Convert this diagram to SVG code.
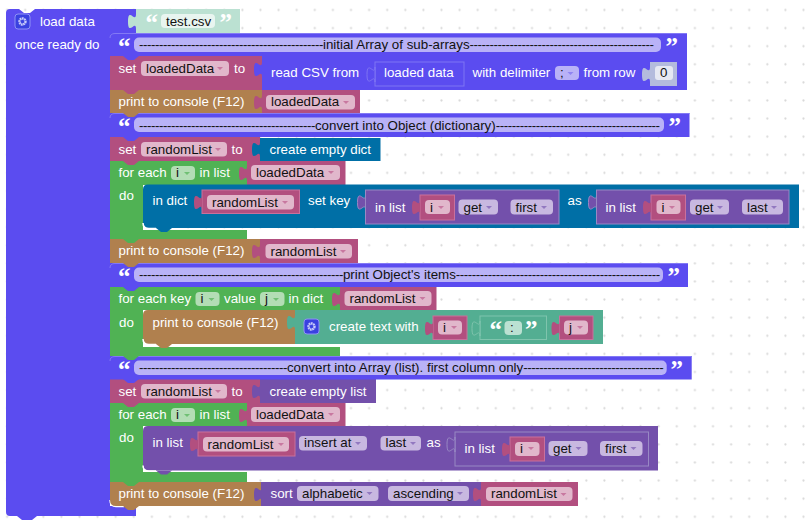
<svg xmlns="http://www.w3.org/2000/svg" xmlns:xlink="http://www.w3.org/1999/xlink" width="805" height="525" viewBox="0 0 805 525">
<defs>
<style>
text{font-family:"Liberation Sans",Arial,sans-serif;font-size:13.33px}
.t{fill:#fff}.k{fill:#111}
.q{font-family:"Liberation Serif","Times New Roman",serif;font-weight:700;font-size:25px;fill:#fff}
.d{letter-spacing:-.44px}
.blue{fill:#5b4cf0}.pink{fill:#b24f7f}.brown{fill:#b0804e}.green{fill:#50b254}.dict{fill:#006fa6}.list{fill:#7350ab}.teal{fill:#53ae92}
.ltcsv{fill:#bbe1d2}.num{fill:#b4bbdd}
.o{stroke-width:1}.ob{stroke:#7f74f3}.op{stroke:#c9709c}.ol{stroke:#9888c4}.ot{stroke:#7fc4ad}
.fb{fill:#b9b2f7}.fp{fill:#e1b7cb}.fg{fill:#b3ddb5}.fl{fill:#c8b8e0}.fw{fill:#e8f5f0}.fn{fill:#e6e8f3}.ft{fill:#bbe1d2}
.ap{fill:#c878a0}.ag{fill:#70bf74}.al{fill:#9278c0}.ab{fill:#8f84f2}
.hi{fill:none;stroke:#fff;stroke-width:1.5}
.gear{fill:#3a41e0;stroke:#8f92f5;stroke-width:1}
.cog{fill:none;stroke:#c9ccfa;stroke-width:2.4;stroke-dasharray:1.7 .5}
.hl{fill:none;stroke:#8379f5;stroke-width:1}
</style>
<pattern id="grid" width="18.1" height="18.1" patternUnits="userSpaceOnUse"><circle cx="7.1" cy="10" r="1.1" fill="#d8d8d8"/></pattern>
<path id="tab" d="M0,0c0,10 -8,-8 -8,7.5s8,-2.5 8,7.5z"/>
<polygon id="dd" points="0,0 6,0 3,3"/>
<polygon id="bump" points="-8,0 -3,4 3,4 8,0"/>
<g id="gearicon"><rect class="gear" x="0" y="0" width="15" height="15" rx="3"/><circle class="cog" cx="7.5" cy="7.5" r="3"/></g>
</defs>
<rect width="805" height="525" fill="#fff"/>
<rect width="805" height="525" fill="url(#grid)"/>

<g id="node-load-data">
<path class="blue" d="M10,9H19L24,13H30L35,9H136V33H110V506H136V516H37L32,520H22L17,516H10Q6,516 6,512V13Q6,9 10,9Z"/>
<use xlink:href="#gearicon" href="#gearicon" x="15" y="14"/>
<text class="t" x="40" y="26">load data</text>
<text class="t" x="15" y="49">once ready do</text>
<path class="hi" d="M110,500Q110,506.5 116,506.5H124"/>
</g>

<g id="node-test-csv">
<rect class="ltcsv" x="136" y="9" width="104" height="24"/>
<use xlink:href="#tab" href="#tab" class="ltcsv" x="136" y="14"/>
<text class="q" x="145.500" y="31">“</text>
<rect class="fw" x="161" y="14" width="54" height="14" rx="4"/>
<text class="k" x="166" y="26">test.csv</text>
<text class="q" x="219.500" y="31">”</text>
</g>

<!-- bottom print -->
<g id="node-print-4">
<path class="brown" d="M110,482H261V506H116Q110,506 110,500Z"/>
<use xlink:href="#bump" href="#bump" class="brown" x="131" y="506"/>
<text class="t" x="118.500" y="498">print to console (F12)</text>
</g>
<g id="node-sort">
<rect class="list" x="261" y="482" width="220" height="24"/>
<use xlink:href="#tab" href="#tab" class="list" x="262" y="487"/>
<text class="t" x="270.500" y="498">sort</text>
<rect class="fl" x="297" y="486" width="81.500" height="15" rx="4"/>
<text class="k" x="302" y="498">alphabetic</text>
<use xlink:href="#dd" href="#dd" class="al" x="366.500" y="492"/>
<rect class="fl" x="388" y="486" width="81" height="15" rx="4"/>
<text class="k" x="393" y="498">ascending</text>
<use xlink:href="#dd" href="#dd" class="al" x="457" y="492"/>
</g>
<g id="node-randomlist-4">
<rect class="pink" x="481" y="482" width="97" height="24"/>
<use xlink:href="#tab" href="#tab" class="pink" x="481" y="487"/>
<rect class="fp" x="486" y="487" width="86.500" height="14" rx="4"/>
<text class="k" x="491" y="498">randomList</text>
<use xlink:href="#dd" href="#dd" class="ap" x="560.500" y="493"/>
</g>

<!-- for each 3 -->
<g id="node-foreach-3">
<path class="green" d="M110,403H247V426H143V472H247V482H110Z"/>
<use xlink:href="#bump" href="#bump" class="green" x="131" y="482"/>
<text class="t" x="118.500" y="419">for each</text>
<rect class="fg" x="171" y="408" width="24" height="14" rx="4"/>
<text class="k" x="176" y="419">i</text>
<use xlink:href="#dd" href="#dd" class="ag" x="184" y="414"/>
<text class="t" x="199.500" y="419">in list</text>
<text class="t" x="119" y="442">do</text>
</g>
<g id="node-loadeddata-3">
<rect class="pink" x="247" y="403" width="98.500" height="24"/>
<use xlink:href="#tab" href="#tab" class="pink" x="247" y="408"/>
<rect class="fp" x="251" y="407" width="89" height="15" rx="4"/>
<text class="k" x="256" y="419">loadedData</text>
<use xlink:href="#dd" href="#dd" class="ap" x="328" y="413"/>
</g>
<g id="node-insert">
<path class="list" d="M148,426H658V470.500H148Q143,470.500 143,465.500V431Q143,426 148,426Z"/>
<use xlink:href="#bump" href="#bump" class="list" x="164" y="470.500"/>
<path class="hi" d="M143,465.500Q143,471 149,471H156"/>
<text class="t" x="152.500" y="447">in list</text>
<rect class="fl" x="299" y="436" width="68" height="14.500" rx="4"/>
<text class="k" x="304" y="447">insert at</text>
<use xlink:href="#dd" href="#dd" class="al" x="355" y="442"/>
<rect class="fl" x="380.500" y="436" width="40.500" height="14.500" rx="4"/>
<text class="k" x="385.500" y="447">last</text>
<use xlink:href="#dd" href="#dd" class="al" x="410" y="442"/>
<text class="t" x="426.500" y="447">as</text>
</g>
<g id="node-randomlist-3">
<rect class="pink o op" x="198" y="432" width="97" height="24"/>
<use xlink:href="#tab" href="#tab" class="pink" x="198" y="437"/>
<rect class="fp" x="203" y="437" width="86" height="14.500" rx="4"/>
<text class="k" x="207.500" y="449">randomList</text>
<use xlink:href="#dd" href="#dd" class="ap" x="278" y="443"/>
</g>
<g id="node-list-get-3">
<rect class="list o ol" x="455" y="432" width="193.500" height="34"/>
<use xlink:href="#tab" href="#tab" class="list o ol" x="455" y="437"/>
<text class="t" x="464.500" y="453">in list</text>
<rect class="fl" x="548.500" y="441" width="39" height="15" rx="4"/>
<text class="k" x="553" y="453">get</text>
<use xlink:href="#dd" href="#dd" class="al" x="575.500" y="447"/>
<rect class="fl" x="600" y="441" width="42.500" height="15" rx="4"/>
<text class="k" x="605" y="453">first</text>
<use xlink:href="#dd" href="#dd" class="al" x="630.500" y="447"/>
</g>
<g id="node-i-3b">
<rect class="pink o op" x="510" y="437" width="34.500" height="24"/>
<use xlink:href="#tab" href="#tab" class="pink" x="510" y="442"/>
<rect class="fp" x="515" y="442" width="24.500" height="14" rx="4"/>
<text class="k" x="520" y="453">i</text>
<use xlink:href="#dd" href="#dd" class="ap" x="528" y="447"/>
</g>

<g id="node-set-randomlist-2">
<rect class="pink" x="110" y="379" width="150" height="24"/>
<use xlink:href="#bump" href="#bump" class="pink" x="131" y="403"/>
<text class="t" x="118.500" y="396">set</text>
<rect class="fp" x="141" y="384" width="86" height="14.500" rx="4"/>
<text class="k" x="146" y="396">randomList</text>
<use xlink:href="#dd" href="#dd" class="ap" x="215" y="390"/>
<text class="t" x="231.500" y="396">to</text>
</g>
<g id="node-empty-list">
<rect class="list" x="260" y="379" width="116" height="24"/>
<use xlink:href="#tab" href="#tab" class="list" x="260" y="384"/>
<text class="t" x="269.500" y="396">create empty list</text>
</g>

<g id="node-comment-4">
<rect class="blue" x="110" y="356" width="581.700" height="23.500"/>
<use xlink:href="#bump" href="#bump" class="blue" x="131" y="379"/>
<path class="hl" d="M110,361Q110,356.500 115,356.500H691.700"/>
<text class="q" x="118" y="378">“</text>
<rect class="fb" x="134" y="360.500" width="532.700" height="14.500" rx="5"/>
<text class="k" x="139" y="372"><tspan class="d">-------------------------------------</tspan>convert into Array (list). first column only<tspan class="d">-----------------------------------</tspan></text>
<text class="q" x="670.500" y="378">”</text>
</g>

<!-- for each key -->
<g id="node-foreach-2">
<path class="green" d="M110,287H340V310H143V347H340V356H110Z"/>
<use xlink:href="#bump" href="#bump" class="green" x="131" y="356"/>
<text class="t" x="118.500" y="303">for each key</text>
<rect class="fg" x="195.500" y="292" width="24" height="14" rx="4"/>
<text class="k" x="200.500" y="303">i</text>
<use xlink:href="#dd" href="#dd" class="ag" x="208.500" y="298"/>
<text class="t" x="224" y="303">value</text>
<rect class="fg" x="260" y="292" width="24.500" height="14" rx="4"/>
<text class="k" x="265" y="303">j</text>
<use xlink:href="#dd" href="#dd" class="ag" x="273" y="298"/>
<text class="t" x="288.500" y="303">in dict</text>
<text class="t" x="119" y="327">do</text>
</g>
<g id="node-randomlist-2">
<rect class="pink" x="340" y="287" width="96.500" height="23"/>
<use xlink:href="#tab" href="#tab" class="pink" x="340" y="292"/>
<rect class="fp" x="344.500" y="291" width="87" height="15" rx="4"/>
<text class="k" x="349.500" y="303">randomList</text>
<use xlink:href="#dd" href="#dd" class="ap" x="419.500" y="297"/>
</g>
<g id="node-print-3">
<path class="brown" d="M148,310H295V344H148Q143,344 143,339V315Q143,310 148,310Z"/>
<use xlink:href="#bump" href="#bump" class="brown" x="164" y="344"/>
<path class="hi" d="M143,339Q143,344.500 149,344.500H156"/>
<text class="t" x="152.500" y="327">print to console (F12)</text>
</g>
<g id="node-create-text">
<rect class="teal" x="295" y="310" width="308" height="34"/>
<use xlink:href="#tab" href="#tab" class="teal" x="295" y="315"/>
<use xlink:href="#gearicon" href="#gearicon" x="304" y="319"/>
<text class="t" x="329" y="331">create text with</text>
</g>
<g id="node-i-2">
<rect class="pink o op" x="433" y="316" width="34" height="23.500"/>
<use xlink:href="#tab" href="#tab" class="pink" x="433" y="321"/>
<rect class="fp" x="438" y="320.500" width="24" height="14" rx="4"/>
<text class="k" x="443" y="332">i</text>
<use xlink:href="#dd" href="#dd" class="ap" x="451" y="326"/>
</g>
<g id="node-colon">
<rect class="teal o ot" x="480" y="316" width="66.500" height="23.500"/>
<use xlink:href="#tab" href="#tab" class="teal o ot" x="480" y="321"/>
<text class="q" x="489.500" y="338">“</text>
<rect class="ft" x="504.500" y="321" width="17.500" height="14" rx="4"/>
<text class="k" x="510" y="332">:</text>
<text class="q" x="525" y="338">”</text>
</g>
<g id="node-j-2">
<rect class="pink o op" x="559.500" y="316" width="33.500" height="23.500"/>
<use xlink:href="#tab" href="#tab" class="pink" x="559.500" y="321"/>
<rect class="fp" x="564" y="320.500" width="24" height="14" rx="4"/>
<text class="k" x="569" y="332">j</text>
<use xlink:href="#dd" href="#dd" class="ap" x="577" y="326"/>
</g>

<g id="node-comment-3">
<rect class="blue" x="110" y="263" width="578" height="24"/>
<use xlink:href="#bump" href="#bump" class="blue" x="131" y="287"/>
<path class="hl" d="M110,268Q110,263.500 115,263.500H688"/>
<text class="q" x="118" y="285">“</text>
<rect class="fb" x="134" y="267.500" width="529" height="14.500" rx="5"/>
<text class="k" x="139" y="279"><tspan class="d">---------------------------------------------------</tspan>print Object's items<tspan class="d">---------------------------------------------------</tspan></text>
<text class="q" x="667.500" y="285">”</text>
</g>

<g id="node-print-2">
<rect class="brown" x="110" y="239" width="150" height="24"/>
<use xlink:href="#bump" href="#bump" class="brown" x="131" y="263"/>
<text class="t" x="118.500" y="255">print to console (F12)</text>
</g>
<g id="node-randomlist-print">
<rect class="pink" x="260" y="239" width="98" height="24"/>
<use xlink:href="#tab" href="#tab" class="pink" x="260" y="244"/>
<rect class="fp" x="265.500" y="244" width="86.500" height="14.500" rx="4"/>
<text class="k" x="270.500" y="256">randomList</text>
<use xlink:href="#dd" href="#dd" class="ap" x="340" y="250"/>
</g>

<!-- for each 1 -->
<g id="node-foreach-1">
<path class="green" d="M110,161H247V185H143V230H247V239H110Z"/>
<use xlink:href="#bump" href="#bump" class="green" x="131" y="239"/>
<text class="t" x="118.500" y="177">for each</text>
<rect class="fg" x="171" y="166" width="24" height="14" rx="4"/>
<text class="k" x="176" y="177">i</text>
<use xlink:href="#dd" href="#dd" class="ag" x="184" y="172"/>
<text class="t" x="199.500" y="177">in list</text>
<text class="t" x="119" y="200">do</text>
</g>
<g id="node-loadeddata-2">
<rect class="pink" x="247" y="161" width="98.500" height="24"/>
<use xlink:href="#tab" href="#tab" class="pink" x="247" y="166"/>
<rect class="fp" x="251" y="165" width="89" height="15" rx="4"/>
<text class="k" x="256" y="177">loadedData</text>
<use xlink:href="#dd" href="#dd" class="ap" x="328" y="171"/>
</g>
<g id="node-dict-set">
<path class="dict" d="M148,184.500H799V228H148Q143,228 143,223V189.500Q143,184.500 148,184.500Z"/>
<use xlink:href="#bump" href="#bump" class="dict" x="164" y="228"/>
<path class="hi" d="M143,223Q143,228.500 149,228.500H156"/>
<text class="t" x="152.500" y="205">in dict</text>
<text class="t" x="308" y="205">set key</text>
<text class="t" x="567.500" y="205">as</text>
</g>
<g id="node-randomlist-1">
<rect class="pink o op" x="202" y="190" width="97.500" height="23.500"/>
<use xlink:href="#tab" href="#tab" class="pink" x="202" y="195"/>
<rect class="fp" x="207" y="195" width="87" height="14.500" rx="4"/>
<text class="k" x="212" y="207">randomList</text>
<use xlink:href="#dd" href="#dd" class="ap" x="282" y="201"/>
</g>
<g id="node-list-first">
<rect class="list o ol" x="365.500" y="190" width="193.500" height="34"/>
<use xlink:href="#tab" href="#tab" class="list o ol" x="365.500" y="195"/>
<text class="t" x="375" y="212">in list</text>
<rect class="fl" x="458.500" y="199.500" width="39.500" height="15" rx="4"/>
<text class="k" x="463.500" y="211.500">get</text>
<use xlink:href="#dd" href="#dd" class="al" x="486" y="206"/>
<rect class="fl" x="510.500" y="199.500" width="42.500" height="15" rx="4"/>
<text class="k" x="515.500" y="211.500">first</text>
<use xlink:href="#dd" href="#dd" class="al" x="541" y="206"/>
</g>
<g id="node-i-1a">
<rect class="pink o op" x="420" y="195" width="34.500" height="25"/>
<use xlink:href="#tab" href="#tab" class="pink" x="420" y="200"/>
<rect class="fp" x="425" y="200" width="25" height="14" rx="4"/>
<text class="k" x="430" y="212">i</text>
<use xlink:href="#dd" href="#dd" class="ap" x="438" y="206"/>
</g>
<g id="node-list-last">
<rect class="list o ol" x="596.500" y="190" width="192.500" height="34"/>
<use xlink:href="#tab" href="#tab" class="list o ol" x="596.500" y="195"/>
<text class="t" x="605.500" y="212">in list</text>
<rect class="fl" x="690" y="199.500" width="39" height="15" rx="4"/>
<text class="k" x="695" y="211.500">get</text>
<use xlink:href="#dd" href="#dd" class="al" x="717" y="206"/>
<rect class="fl" x="742" y="199.500" width="41" height="15" rx="4"/>
<text class="k" x="747" y="211.500">last</text>
<use xlink:href="#dd" href="#dd" class="al" x="771" y="206"/>
</g>
<g id="node-i-1b">
<rect class="pink o op" x="651" y="195" width="34.500" height="25"/>
<use xlink:href="#tab" href="#tab" class="pink" x="651" y="200"/>
<rect class="fp" x="656.500" y="200" width="24" height="14" rx="4"/>
<text class="k" x="661.500" y="212">i</text>
<use xlink:href="#dd" href="#dd" class="ap" x="669" y="206"/>
</g>

<g id="node-set-randomlist-1">
<rect class="pink" x="110" y="137" width="150" height="24"/>
<use xlink:href="#bump" href="#bump" class="pink" x="131" y="161"/>
<text class="t" x="118.500" y="154">set</text>
<rect class="fp" x="141" y="142" width="86" height="14.500" rx="4"/>
<text class="k" x="146" y="154">randomList</text>
<use xlink:href="#dd" href="#dd" class="ap" x="215" y="148"/>
<text class="t" x="231.500" y="154">to</text>
</g>
<g id="node-empty-dict">
<rect class="dict" x="260" y="138" width="120.500" height="23"/>
<use xlink:href="#tab" href="#tab" class="dict" x="260" y="142"/>
<text class="t" x="269.500" y="154">create empty dict</text>
</g>

<g id="node-comment-2">
<rect class="blue" x="110" y="113" width="579.500" height="24"/>
<use xlink:href="#bump" href="#bump" class="blue" x="131" y="137"/>
<path class="hl" d="M110,118Q110,113.500 115,113.500H689.500"/>
<text class="q" x="118" y="135">“</text>
<rect class="fb" x="134" y="117.500" width="530" height="14.500" rx="5"/>
<text class="k" x="139" y="130"><tspan class="d">--------------------------------------------</tspan>convert into Object (dictionary)<tspan class="d">-----------------------------------------</tspan></text>
<text class="q" x="668.500" y="135">”</text>
</g>

<g id="node-print-1">
<rect class="brown" x="110" y="90" width="152" height="23"/>
<use xlink:href="#bump" href="#bump" class="brown" x="131" y="113"/>
<text class="t" x="118.500" y="106">print to console (F12)</text>
</g>
<g id="node-loadeddata-1">
<rect class="pink" x="262" y="90" width="98" height="23"/>
<use xlink:href="#tab" href="#tab" class="pink" x="262" y="95"/>
<rect class="fp" x="266" y="95" width="89" height="14.500" rx="4"/>
<text class="k" x="271" y="106">loadedData</text>
<use xlink:href="#dd" href="#dd" class="ap" x="343" y="101"/>
</g>

<g id="node-set-loadeddata">
<rect class="pink" x="110" y="56" width="152" height="34"/>
<use xlink:href="#bump" href="#bump" class="pink" x="131" y="90"/>
<text class="t" x="118.500" y="73">set</text>
<rect class="fp" x="141" y="61" width="88" height="15" rx="4"/>
<text class="k" x="146" y="73">loadedData</text>
<use xlink:href="#dd" href="#dd" class="ap" x="217" y="67"/>
<text class="t" x="234" y="73">to</text>
</g>
<g id="node-read-csv">
<rect class="blue" x="262" y="56" width="425" height="34"/>
<use xlink:href="#tab" href="#tab" class="blue" x="262" y="62"/>
<text class="t" x="271" y="77">read CSV from</text>
<text class="t" x="472.500" y="77">with delimiter</text>
<rect class="fb" x="555" y="66" width="24" height="14" rx="4"/>
<text class="k" x="560" y="77">;</text>
<use xlink:href="#dd" href="#dd" class="ab" x="567.500" y="72"/>
<text class="t" x="583.500" y="77">from row</text>
</g>
<g id="node-loaded-data">
<rect class="blue o ob" x="375" y="62" width="89" height="24"/>
<use xlink:href="#tab" href="#tab" class="blue o ob" x="375" y="67"/>
<text class="t" x="384" y="77">loaded data</text>
</g>
<g id="node-zero">
<rect class="num" x="650" y="62" width="27" height="24"/>
<use xlink:href="#tab" href="#tab" class="num" x="650" y="67"/>
<rect class="fn" x="655" y="66" width="18" height="14" rx="3"/>
<text class="k" x="660" y="77">0</text>
</g>

<g id="node-comment-1">
<rect class="blue" x="110" y="33" width="577" height="23"/>
<use xlink:href="#bump" href="#bump" class="blue" x="131" y="56"/>
<path class="hl" d="M110,38Q110,33.500 115,33.500H687"/>
<text class="q" x="118" y="55">“</text>
<rect class="fb" x="134" y="37.500" width="527" height="14.500" rx="5"/>
<text class="k" x="139" y="49"><tspan class="d">----------------------------------------------</tspan>initial Array of sub-arrays<tspan class="d">----------------------------------------------</tspan></text>
<text class="q" x="665.500" y="55">”</text>
</g>
</svg>
